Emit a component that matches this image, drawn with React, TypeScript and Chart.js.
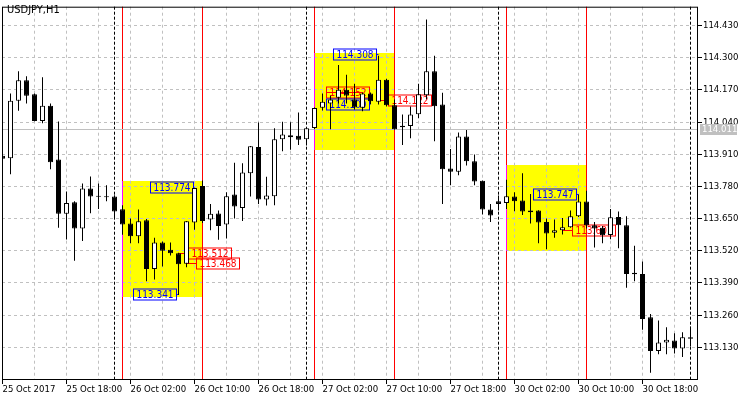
import { useEffect, useRef } from 'react';
import { Chart, registerables } from 'chart.js';

Chart.register(...registerables);

// USDJPY H1, bar 0 = 25 Oct 2017 10:00, one bar per hour
const opens = [
  113.904, 113.894, 114.126, 114.209, 114.152, 114.044, 114.106, 113.889, 113.670, 113.716,
  113.610, 113.772, 113.742, 113.736, 113.739, 113.688, 113.630, 113.579, 113.643, 113.446,
  113.553, 113.524, 113.510, 113.468, 113.634, 113.782, 113.646, 113.671, 113.626, 113.747,
  113.693, 113.833, 113.939, 113.727, 113.740, 113.971, 113.987, 113.985, 113.971, 114.016,
  114.098, 114.115, 114.138, 114.171, 114.131, 114.098, 114.155, 114.122, 114.211, 114.108,
  114.025, 114.024, 114.072, 114.148, 114.245, 114.111, 113.852, 113.839, 113.982, 113.882,
  113.803, 113.687, 113.720, 113.713, 113.739, 113.723, 113.683, 113.683, 113.636, 113.593,
  113.603, 113.615, 113.659, 113.719, 113.623, 113.613, 113.584, 113.656, 113.623, 113.431,
  113.426, 113.251, 113.115, 113.149, 113.158, 113.125, 113.171,
];
const highs = [
  113.912, 114.155, 114.245, 114.225, 114.155, 114.221, 114.115, 114.042, 113.759, 113.720,
  113.792, 113.820, 113.792, 113.785, 113.744, 113.704, 113.650, 113.687, 113.648, 113.573,
  113.557, 113.553, 113.512, 113.640, 113.774, 113.804, 113.709, 113.683, 113.756, 113.876,
  113.874, 113.943, 114.038, 113.819, 114.015, 114.041, 114.039, 114.079, 114.019, 114.099,
  114.155, 114.147, 114.270, 114.231, 114.195, 114.159, 114.159, 114.308, 114.215, 114.131,
  114.071, 114.103, 114.195, 114.454, 114.308, 114.158, 113.931, 113.998, 114.008, 113.909,
  113.804, 113.709, 113.743, 113.807, 113.756, 113.833, 113.749, 113.684, 113.650, 113.646,
  113.652, 113.683, 113.747, 113.763, 113.636, 113.620, 113.689, 113.679, 113.659, 113.540,
  113.477, 113.265, 113.238, 113.211, 113.187, 113.191, 113.214,
];
const lows = [
  113.884, 113.829, 114.086, 114.115, 114.043, 114.035, 113.849, 113.613, 113.566, 113.480,
  113.560, 113.672, 113.689, 113.720, 113.656, 113.585, 113.550, 113.550, 113.397, 113.404,
  113.457, 113.501, 113.341, 113.453, 113.605, 113.632, 113.603, 113.565, 113.570, 113.650,
  113.640, 113.739, 113.709, 113.703, 113.704, 113.922, 113.928, 113.947, 113.945, 114.011,
  114.087, 114.011, 114.115, 114.115, 114.091, 114.084, 114.113, 114.111, 114.103, 114.009,
  113.947, 113.975, 114.055, 114.132, 113.962, 113.709, 113.785, 113.825, 113.865, 113.785,
  113.667, 113.636, 113.683, 113.689, 113.680, 113.665, 113.630, 113.550, 113.526, 113.573,
  113.586, 113.613, 113.656, 113.610, 113.533, 113.550, 113.567, 113.530, 113.371, 113.397,
  113.201, 113.027, 113.102, 113.102, 113.105, 113.091, 113.133,
];
const closes = [
  113.892, 114.126, 114.209, 114.146, 114.044, 114.106, 113.878, 113.670, 113.713, 113.610,
  113.772, 113.739, 113.738, 113.740, 113.679, 113.626, 113.579, 113.639, 113.446, 113.553,
  113.520, 113.510, 113.466, 113.639, 113.774, 113.640, 113.670, 113.620, 113.740, 113.699,
  113.836, 113.942, 113.727, 113.743, 113.971, 113.990, 113.979, 113.969, 114.015, 114.097,
  114.122, 114.131, 114.171, 114.147, 114.099, 114.155, 114.124, 114.211, 114.108, 114.011,
  114.019, 114.071, 114.152, 114.245, 114.104, 113.849, 113.839, 113.982, 113.882, 113.800,
  113.687, 113.663, 113.709, 113.740, 113.720, 113.679, 113.676, 113.634, 113.590, 113.603,
  113.615, 113.659, 113.719, 113.623, 113.610, 113.583, 113.655, 113.623, 113.426, 113.425,
  113.244, 113.115, 113.149, 113.161, 113.125, 113.171, 113.165,
];

// axes
const priceTicks = [113.13, 113.26, 113.39, 113.52, 113.65, 113.78, 113.91, 114.04, 114.17, 114.3, 114.43];
const timeLabels = [
  '25 Oct 2017', '25 Oct 18:00', '26 Oct 02:00', '26 Oct 10:00', '26 Oct 18:00', '27 Oct 02:00',
  '27 Oct 10:00', '27 Oct 18:00', '30 Oct 02:00', '30 Oct 10:00', '30 Oct 18:00',
];
const bidPrice = 114.011;

// session boxes (bar index of 01:00 and 11:00)
const boxStart = [15, 39, 63];
const boxEnd = [25, 49, 73];
const boxHigh = [113.8, 114.318, 113.867];
const boxLow = [113.335, 113.929, 113.521];
const daySeparators = [14, 38, 62, 86];

// price labels
const labelTexts = ['113.774', '113.341', '113.512', '113.468', '114.308', '114.152', '114.109', '114.122', '113.747', '113.601'];
const labelKinds = ['ext', 'ext', 'lvl', 'lvl', 'ext', 'lvl', 'ext', 'lvl', 'ext', 'lvl'];
const labelPrices = [113.778, 113.345, 113.513, 113.472, 114.314, 114.163, 114.114, 114.128, 113.749, 113.605];
const labelBars = [18.4, 16.3, 23.2, 24.2, 41.3, 40.4, 40.4, 48.2, 66.3, 71.2];
const labelAnchors = [24, 22, 22, 23, 47, 45, 46, 47, 72, 70];

const FONT = "'Liberation Sans Narrow', 'DejaVu Sans Condensed', 'Liberation Sans', sans-serif";

const overlay = {
  id: 'overlay',
  beforeDraw(chart: any) {
    const { ctx, scales: { x, y } } = chart;
    ctx.save();
    ctx.fillStyle = '#ffff00';
    boxStart.forEach((s, k) => {
      const x0 = x.getPixelForValue(s) - 0.5;
      const x1 = x.getPixelForValue(boxEnd[k]) + 0.5;
      const y0 = Math.round(y.getPixelForValue(boxHigh[k]));
      const y1 = Math.round(y.getPixelForValue(boxLow[k]));
      ctx.fillRect(x0, y0, x1 - x0, y1 - y0);
    });
    ctx.restore();
  },
  beforeDatasetsDraw(chart: any) {
    const { ctx, chartArea: a, scales: { x, y } } = chart;
    ctx.save();
    ctx.lineWidth = 1;

    // red session lines
    ctx.strokeStyle = '#ff0000';
    [...boxStart, ...boxEnd].forEach((b) => {
      const px = x.getPixelForValue(b);
      ctx.beginPath();
      ctx.moveTo(px, a.top);
      ctx.lineTo(px, a.bottom);
      ctx.stroke();
    });
    ctx.strokeStyle = '#ff00ff';
    boxStart.forEach((s, k) => {
      const px = x.getPixelForValue(s);
      ctx.beginPath();
      ctx.moveTo(px, Math.round(y.getPixelForValue(boxHigh[k])));
      ctx.lineTo(px, Math.round(y.getPixelForValue(boxLow[k])));
      ctx.stroke();
    });

    // day separators
    ctx.strokeStyle = '#000';
    ctx.setLineDash([3, 2]);
    daySeparators.forEach((b) => {
      const px = x.getPixelForValue(b);
      ctx.beginPath();
      ctx.moveTo(px, a.top);
      ctx.lineTo(px, a.bottom);
      ctx.stroke();
    });
    ctx.setLineDash([]);

    // bid line
    const by = Math.round(y.getPixelForValue(bidPrice)) + 0.5;
    ctx.strokeStyle = '#c0c0c0';
    ctx.beginPath();
    ctx.moveTo(a.left, by);
    ctx.lineTo(a.right, by);
    ctx.stroke();

    // price labels
    ctx.font = `10px ${FONT}`;
    ctx.textAlign = 'center';
    ctx.textBaseline = 'middle';
    labelTexts.forEach((t, k) => {
      const col = labelKinds[k] === 'ext' ? '#0000ff' : '#ff0000';
      const left = Math.round(x.getPixelForValue(labelBars[k])) + 0.5;
      const cy = Math.round(y.getPixelForValue(labelPrices[k])) + 0.5;
      const w = Math.ceil(ctx.measureText(t).width) + 5;
      const h = 11;
      const ax = x.getPixelForValue(labelAnchors[k]);
      ctx.strokeStyle = col;
      ctx.fillStyle = col;
      ctx.beginPath();
      if (ax > left + w) {
        ctx.moveTo(left + w, cy);
        ctx.lineTo(ax, cy);
      } else {
        ctx.moveTo(ax, cy);
        ctx.lineTo(left, cy);
      }
      ctx.stroke();
      ctx.strokeRect(left, cy - h / 2, w, h);
      ctx.fillText(t, left + w / 2, cy + 0.5);
    });
    ctx.restore();
  },
  afterDraw(chart: any) {
    const { ctx, chartArea: a, scales: { y } } = chart;
    ctx.save();
    ctx.strokeStyle = '#000';
    ctx.lineWidth = 1;
    ctx.strokeRect(a.left + 0.5, a.top + 0.5, a.right - a.left - 1, a.bottom - a.top - 1);

    ctx.fillStyle = '#000';
    ctx.font = `11px ${FONT}`;
    ctx.textAlign = 'left';
    ctx.textBaseline = 'middle';
    ctx.fillText('USDJPY,H1', 7, 10);

    const by = Math.round(y.getPixelForValue(bidPrice));
    ctx.fillStyle = '#c0c0c0';
    ctx.fillRect(a.right + 2, by - 5, 37, 11);
    ctx.fillStyle = '#ffffff';
    ctx.font = `9.5px ${FONT}`;
    ctx.fillText(bidPrice.toFixed(3), a.right + 4, by + 1);
    ctx.restore();
  },
};

export default function App() {
  const canvasRef = useRef<HTMLCanvasElement>(null);

  useEffect(() => {
    if (!canvasRef.current) return;

    const bodies = opens.map((o, i) => ({ x: i, y: [o, closes[i]] }));
    const wicks = lows.map((l, i) => ({ x: i, y: [l, highs[i]] }));

    const chart = new Chart(canvasRef.current, {
      type: 'bar',
      data: {
        datasets: [
          {
            label: 'body',
            data: bodies as any,
            backgroundColor: opens.map((o, i) => (closes[i] > o ? '#ffffff' : '#000000')),
            borderColor: '#000000',
            borderWidth: 1,
            borderSkipped: false,
            barThickness: 5,
            grouped: false,
            inflateAmount: 0,
          },
          {
            label: 'wick',
            data: wicks as any,
            backgroundColor: '#000000',
            borderWidth: 0,
            barThickness: 1,
            grouped: false,
            inflateAmount: 0,
          },
        ],
      },
      options: {
        animation: false,
        responsive: true,
        maintainAspectRatio: false,
        devicePixelRatio: 1,
        layout: { padding: { left: 2, top: 2, right: 0, bottom: 0 } },
        plugins: { legend: { display: false }, tooltip: { enabled: false } },
        scales: {
          x: {
            type: 'linear',
            offset: false,
            min: -0.0625,
            max: 86.9375,
            afterBuildTicks: (axis: any) => {
              axis.ticks = Array.from({ length: 22 }, (_, k) => ({ value: k * 4 }));
            },
            afterFit: (scale: any) => {
              scale.height = 20;
            },
            ticks: {
              autoSkip: false,
              maxRotation: 0,
              align: 'start',
              padding: 0,
              color: '#000',
              font: { family: FONT, size: 9.5 },
              callback: (v: any) => (Number(v) % 8 === 0 ? timeLabels[Number(v) / 8] : ''),
            },
            grid: {
              offset: false,
              color: '#c0c0c0',
              tickLength: 4,
              tickColor: (c: any) => (c.tick && c.tick.value % 8 === 0 ? '#000' : 'rgba(0,0,0,0)'),
            },
            border: { display: false, dash: [3, 3] },
          },
          y: {
            position: 'right',
            min: 112.998,
            max: 114.506,
            afterBuildTicks: (axis: any) => {
              axis.ticks = priceTicks.map((v) => ({ value: v }));
            },
            afterFit: (scale: any) => {
              scale.width = 52;
            },
            ticks: {
              autoSkip: false,
              padding: 1,
              color: '#000',
              font: { family: FONT, size: 9.5 },
              callback: (v: any) => Number(v).toFixed(3),
            },
            grid: { color: '#c0c0c0', tickLength: 4, tickColor: '#000' },
            border: { display: false, dash: [3, 3] },
          },
        },
      },
      plugins: [overlay],
    });

    return () => chart.destroy();
  }, []);

  return (
    <div style={{ position: 'fixed', left: 0, top: 0, width: 750, height: 400, background: '#fff' }}>
      <canvas ref={canvasRef} />
    </div>
  );
}
